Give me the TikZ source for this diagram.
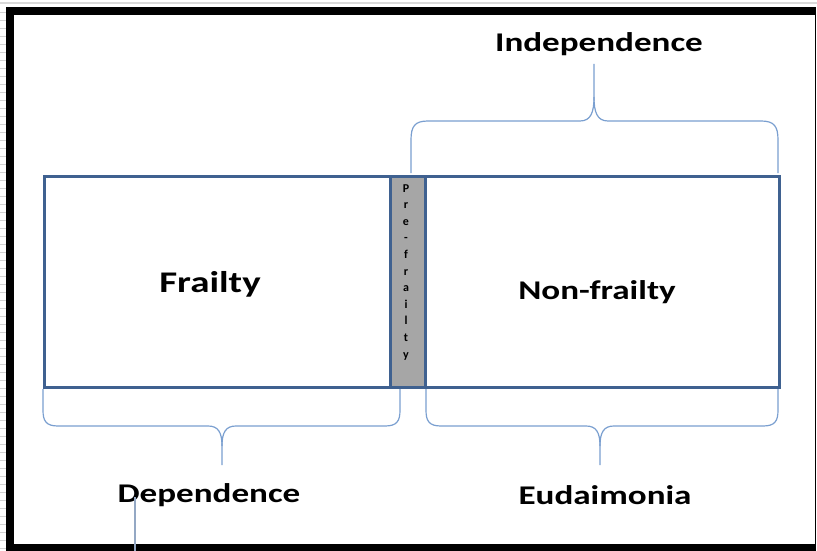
\documentclass[tikz,border=0pt]{standalone}
\usepackage{fontspec}
\setmainfont{Carlito}
\definecolor{boxblue}{HTML}{3F6190}
\definecolor{braceblue}{HTML}{7A9FD0}
\definecolor{prefill}{HTML}{A6A6A6}
\definecolor{leadgray}{HTML}{94A8C4}
\tikzset{
  bigbox/.style={draw=boxblue, line width=2.6pt, fill=white},
  prebox/.style={draw=boxblue, line width=2.6pt, fill=prefill},
  bracepath/.style={draw=braceblue, line width=1.2pt},
  lbl/.style={font=\fontsize{27}{30}\selectfont\bfseries, inner sep=0pt, xscale=1.3, transform shape},
  vlbl/.style={font=\fontsize{12}{13}\selectfont\bfseries, inner sep=0pt},
}
\begin{document}
\begin{tikzpicture}[x=1pt,y=-1pt]
\useasboundingbox (0,0) rectangle (817,551);
\fill[white] (0,0) rectangle (817,551);
% ruler marks and top line
\draw[gray!30, line width=1.2pt] (0,3) -- (817,3);
\foreach \yy in {12,20,...,548} \draw[gray!35, line width=0.8pt] (0,\yy) -- (6,\yy);
% frame
\fill[black] (6,7) rectangle (816,551);
\fill[white] (14,15) rectangle (814.5,544);
% boxes
\node[bigbox, minimum width=346pt, minimum height=211pt, anchor=north west, inner sep=0pt] (frail) at (43,175) {};
\node[bigbox, minimum width=354pt, minimum height=211pt, anchor=north west, inner sep=0pt] (nonfrail) at (424,175) {};
\node[prebox, minimum width=35pt, minimum height=211pt, anchor=north west, inner sep=0pt] (pre) at (389,175) {};
\foreach \ch [count=\i from 0] in {P,r,e,-,f,r,a,i,l,t,y}
  \node[vlbl, anchor=base] (pl\i) at (406,{192+16.6*\i}) {\ch};
\node[lbl, font=\fontsize{30}{33}\selectfont\bfseries] (frailtxt) at (210,284) {Frailty};
\node[lbl] (nonfrailtxt) at (597,292) {Non-frailty};
% labels
\node[lbl] (indep) at (599,44) {Independence};
\node[lbl] (dep) at (209,495) {Dependence};
\node[lbl] (eud) at (605,495) {Eudaimonia};
% top brace
\draw[bracepath] (411,173) -- (411,140) .. controls (411,126) and (415,121) .. (428,121)
  -- (580,121) .. controls (591,121) and (594,112) .. (594,97) -- (594,64);
\draw[bracepath] (778,173) -- (778,140) .. controls (778,126) and (774,121) .. (761,121)
  -- (608,121) .. controls (597,121) and (594,112) .. (594,97);
% bottom left brace
\draw[bracepath] (43,389) -- (43,410) .. controls (43,421) and (46,426) .. (58,426)
  -- (208,426) .. controls (218,426) and (222,432) .. (222,446) -- (222,465);
\draw[bracepath] (400,389) -- (400,410) .. controls (400,421) and (397,426) .. (385,426)
  -- (236,426) .. controls (226,426) and (222,432) .. (222,446);
% bottom right brace
\draw[bracepath] (426,389) -- (426,410) .. controls (426,421) and (429,426) .. (441,426)
  -- (586,426) .. controls (596,426) and (600,432) .. (600,446) -- (600,465);
\draw[bracepath] (778,389) -- (778,410) .. controls (778,421) and (775,426) .. (763,426)
  -- (614,426) .. controls (604,426) and (600,432) .. (600,446);
% leader line
\coordinate (leadend) at (135,551);
\draw[leadgray, line width=1.3pt] (135,497) -- (leadend);
\end{tikzpicture}
\end{document}
